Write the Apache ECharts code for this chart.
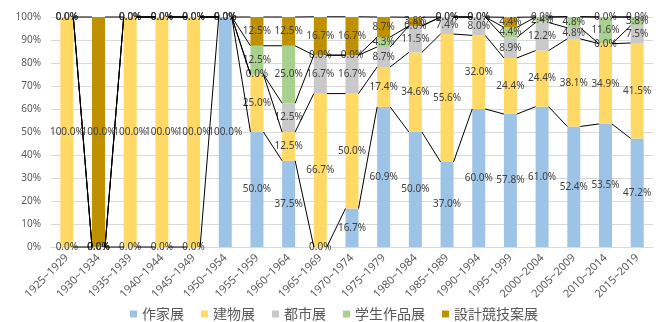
<!DOCTYPE html>
<html>
<head>
<meta charset="utf-8">
<script src="https://cdn.jsdelivr.net/npm/echarts@6/dist/echarts.min.js"></script>
<style>
  html, body { margin: 0; padding: 0; background: #fff; }
  #chart { width: 658px; height: 322px; }
</style>
</head>
<body>
<div id="chart"></div>
<script>
// Five-year periods
const periods = [
  '1925~1929', '1930~1934', '1935~1939', '1940~1944', '1945~1949',
  '1950~1954', '1955~1959', '1960~1964', '1965~1969', '1970~1974',
  '1975~1979', '1980~1984', '1985~1989', '1990~1994', '1995~1999',
  '2000~2004', '2005~2009', '2010~2014', '2015~2019'
];

const seriesNames = ['作家展', '建物展', '都市展', '学生作品展', '設計競技案展'];

// Share of each exhibition type per period (%)
const sakka    = [0.0, 0.0, 0.0, 0.0, 0.0, 100.0, 50.0, 37.5, 0.0, 16.7, 60.9, 50.0, 37.0, 60.0, 57.8, 61.0, 52.4, 53.5, 47.2];
const tatemono = [100.0, 0.0, 100.0, 100.0, 100.0, 0.0, 25.0, 12.5, 66.7, 50.0, 17.4, 34.6, 55.6, 32.0, 24.4, 24.4, 38.1, 34.9, 41.5];
const toshi    = [0.0, 0.0, 0.0, 0.0, 0.0, 0.0, 0.0, 12.5, 16.7, 16.7, 8.7, 11.5, 7.4, 8.0, 8.9, 12.2, 4.8, 0.0, 7.5];
const gakusei  = [0.0, 0.0, 0.0, 0.0, 0.0, 0.0, 12.5, 25.0, 0.0, 0.0, 4.3, 0.0, 0.0, 0.0, 4.4, 2.4, 4.8, 11.6, 3.8];
const sekkei   = [0.0, 100.0, 0.0, 0.0, 0.0, 0.0, 12.5, 12.5, 16.7, 16.7, 8.7, 3.8, 0.0, 0.0, 4.4, 0.0, 0.0, 0.0, 0.0];

const yTicks = [0, 10, 20, 30, 40, 50, 60, 70, 80, 90, 100];

const seriesValues = [sakka, tatemono, toshi, gakusei, sekkei];
const colors = ['#9DC3E6', '#FFD966', '#C9C9C9', '#A9D18E', '#BF9000'];
const BAR_W = 13;

// Cumulative tops of each stacked segment, used for the connector lines
const cumulative = periods.map((_, i) => {
  let acc = 0;
  return seriesValues.map(arr => (acc += arr[i]));
});
const connectorData = [];
for (let i = 0; i < periods.length - 1; i++) {
  connectorData.push([i].concat(cumulative[i], cumulative[i + 1]));
}

const barSeries = seriesNames.map((name, k) => ({
  name: name,
  type: 'bar',
  stack: 'total',
  barWidth: BAR_W,
  data: seriesValues[k],
  itemStyle: { color: colors[k] },
  z: 2,
  label: {
    show: true,
    position: 'inside',
    color: '#404040',
    fontSize: 10,
    fontFamily: 'Noto Sans',
    formatter: p => p.value.toFixed(1) + '%'
  }
}));

// Series lines joining the segment tops of neighbouring bars
const connectorSeries = {
  type: 'custom',
  data: connectorData,
  z: 3,
  silent: true,
  clip: false,
  renderItem: function (params, api) {
    const i = api.value(0);
    const half = BAR_W / 2;
    const children = [];
    for (let k = 0; k < seriesNames.length; k++) {
      const a = api.coord([i, api.value(1 + k)]);
      const b = api.coord([i + 1, api.value(1 + seriesNames.length + k)]);
      children.push({
        type: 'line',
        shape: { x1: a[0] + half, y1: a[1], x2: b[0] - half, y2: b[1] },
        style: { stroke: '#000', lineWidth: 1 }
      });
    }
    return { type: 'group', children: children };
  }
};

const chart = echarts.init(document.getElementById('chart'), null, { renderer: 'canvas' });
chart.setOption({
  animation: false,
  grid: { left: 51, right: 5, top: 17, bottom: 75 },
  legend: {
    data: seriesNames,
    top: 307,
    left: 130,
    padding: 0,
    icon: 'rect',
    itemWidth: 7,
    itemHeight: 7,
    itemGap: 17,
    textStyle: { color: '#595959', fontSize: 14, fontFamily: 'Noto Sans CJK JP' }
  },
  xAxis: {
    type: 'category',
    data: periods,
    axisTick: { show: false },
    axisLine: { lineStyle: { color: '#D9D9D9' } },
    axisLabel: {
      interval: 0,
      rotate: 45,
      color: '#595959',
      fontSize: 11,
      fontFamily: 'Noto Sans',
      margin: 9
    }
  },
  yAxis: {
    type: 'value',
    min: yTicks[0],
    max: yTicks[yTicks.length - 1],
    interval: yTicks[1] - yTicks[0],
    axisLine: { show: false },
    axisTick: { show: false },
    splitLine: { lineStyle: { color: '#D9D9D9' } },
    axisLabel: {
      color: '#595959',
      fontSize: 10,
      fontFamily: 'Noto Sans',
      margin: 10,
      formatter: '{value}%'
    }
  },
  series: barSeries.concat([connectorSeries])
});
</script>
</body>
</html>
